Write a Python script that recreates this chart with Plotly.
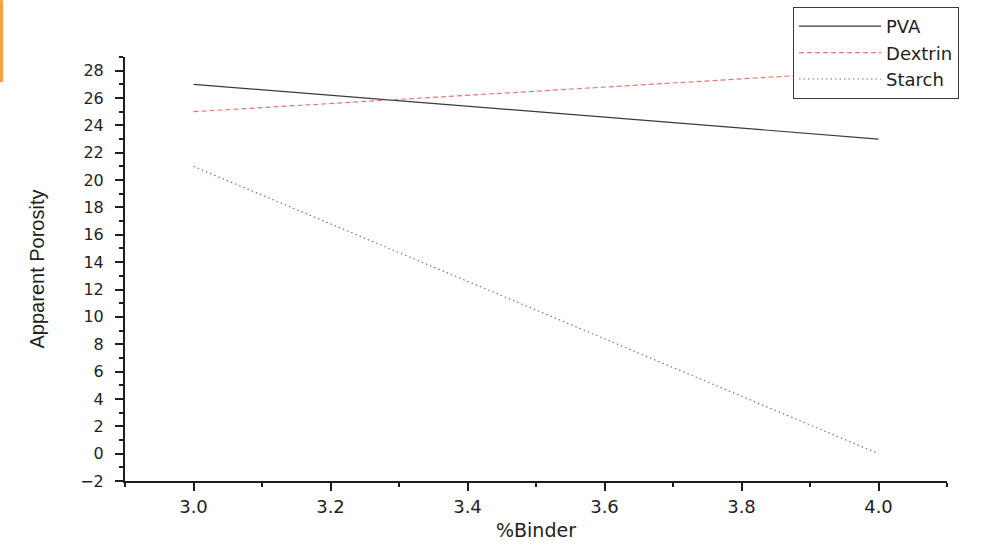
import plotly.graph_objects as go

binder = [3.0, 4.0]
pva = [27, 23]
dextrin = [25, 28]
starch = [21, 0]
x_ticks = [3.0, 3.2, 3.4, 3.6, 3.8, 4.0]
y_ticks = list(range(-2, 29, 2))

fig = go.Figure()
fig.add_trace(go.Scatter(x=binder, y=pva, mode="lines", name="PVA",
                         line=dict(color="#3a3a3a", width=1.2, dash="solid")))
fig.add_trace(go.Scatter(x=binder, y=dextrin, mode="lines", name="Dextrin",
                         line=dict(color="#e07a72", width=1.2, dash="5px,3px")))
fig.add_trace(go.Scatter(x=binder, y=starch, mode="lines", name="Starch",
                         line=dict(color="#6f7396", width=1.2, dash="1.5px,3px")))

font = "DejaVu Sans, Liberation Sans, Arial, sans-serif"
fig.update_layout(
    width=996, height=551,
    paper_bgcolor="white", plot_bgcolor="white",
    margin=dict(l=125, r=49, t=57, b=70, autoexpand=False),
    font=dict(family=font, color="#1e1e1e"),
    showlegend=True,
    legend=dict(xref="container", yref="container", x=0.7962, y=0.9873,
                xanchor="left", yanchor="top",
                bgcolor="white", bordercolor="#3a3a3a", borderwidth=1,
                font=dict(size=18, family=font), tracegroupgap=0,
                itemwidth=82),
    xaxis=dict(range=[2.9, 4.1], tickvals=x_ticks,
               ticktext=[f"{v:.1f}" for v in x_ticks],
               showgrid=False, zeroline=False, showline=True,
               linecolor="#1e1e1e", linewidth=2, ticks="outside",
               ticklen=8, tickwidth=2, tickcolor="#1e1e1e",
               tickfont=dict(size=18),
               minor=dict(dtick=0.1, tick0=2.9, ticks="outside", ticklen=4,
                          tickwidth=2, tickcolor="#1e1e1e", showgrid=False),
               title=dict(text="%Binder", font=dict(size=19), standoff=8)),
    yaxis=dict(range=[-2, 29], tickvals=y_ticks,
               showgrid=False, zeroline=False, showline=True,
               linecolor="#1e1e1e", linewidth=2, ticks="outside",
               ticklen=8, tickwidth=2, tickcolor="#1e1e1e",
               tickfont=dict(size=16), ticklabelstandoff=8,
               minor=dict(dtick=1, tick0=-1, ticks="outside", ticklen=4,
                          tickwidth=2, tickcolor="#1e1e1e", showgrid=False),
               title=dict(text="Apparent Porosity",
                          font=dict(size=20, family="Liberation Sans, Arial, sans-serif"),
                          standoff=30)),
)
fig.add_shape(type="rect", xref="paper", yref="paper",
              x0=-0.1521, x1=-0.1484, y0=0.941, y1=1.134,
              fillcolor="#f5a04a", line=dict(width=0), layer="above")
fig.write_html("out.html", config={"displayModeBar": False},
               post_script="document.body.style.margin='0';")
